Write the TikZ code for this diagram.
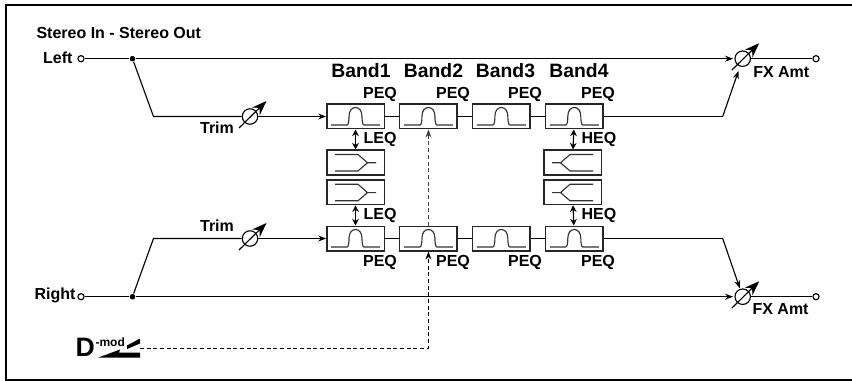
\documentclass[tikz,border=0pt]{standalone}
\usepackage{fontspec}
\setmainfont{Liberation Sans}
\usepackage{tikz}
\usetikzlibrary{arrows.meta, positioning}

\begin{document}
\begin{tikzpicture}[
  x=0.75pt, y=-0.75pt,
  line width=0.85pt,
  font=\bfseries\fontsize{12}{14}\selectfont,
  lab/.style={inner sep=0pt},
  bandlab/.style={lab, font=\bfseries\fontsize{14.5}{16}\selectfont},
  eqbox/.style={rectangle, draw=black!85, line width=1pt, fill=white,
                minimum width=43pt, minimum height=18.5pt, inner sep=0pt},
  term/.style={circle, draw=black, fill=white, minimum size=4.6pt, inner sep=0pt},
  junc/.style={circle, fill=black, minimum size=4.2pt, inner sep=0pt},
  pot/.style={circle, draw=black, fill=white, minimum size=11.6pt, inner sep=0pt},
  tip/.style={-{Stealth[length=6pt, width=4.5pt]}},
  twotip/.style={{Stealth[length=5pt, width=5pt]}-{Stealth[length=5pt, width=5pt]}},
  knob/.style={-{Stealth[length=11pt, width=8pt]}},
  bell/.pic={\draw[black!80] (-24.5,8.5) -- (-8.5,8.5) .. controls (-6.8,8.5) and (-6.5,3) .. (-6.5,0)
             .. controls (-6.5,-6) and (-3.5,-9) .. (0,-9)
             .. controls (3.5,-9) and (6.5,-6) .. (6.5,0)
             .. controls (6.5,3) and (6.8,8.5) .. (8.5,8.5) -- (24.5,8.5);},
  shelf/.pic={\draw[black!80] (-20.5,-8) -- (2.5,-8) -- (12,0.3) -- (2.5,8.5) -- (-20.5,8.5)
              (12,0.3) -- (20.5,0.3);},
]

\useasboundingbox (0,0) rectangle (852,381);

% Frame, open on the right
\draw[line width=1.6pt] (852,5) -- (6,5) -- (6,380) -- (852,380);

\node[lab, anchor=west] (title) at (36,33) {Stereo In - Stereo Out};

% Upper row
\node[eqbox]                  (peqA) at (355.5,116.5) {};
\node[eqbox, right=10.7pt of peqA] (peqB) {};
\node[eqbox, right=10.7pt of peqB] (peqC) {};
\node[eqbox, right=10.7pt of peqC] (peqD) {};

% Lower row
\node[eqbox]                  (peqE) at (355.5,238.5) {};
\node[eqbox, right=10.7pt of peqE] (peqF) {};
\node[eqbox, right=10.7pt of peqF] (peqG) {};
\node[eqbox, right=10.7pt of peqG] (peqH) {};

% Shelving filters
\node[eqbox] (leqA) at (355.5,162.5) {};
\node[eqbox] (leqB) at (355.5,192.3) {};
\node[eqbox] (heqA) at (572.5,162.5) {};
\node[eqbox] (heqB) at (572.5,192.3) {};

\foreach \n in {peqA,peqB,peqC,peqD,peqE,peqF,peqG,peqH}
  \pic at (\n) {bell};
\foreach \n in {leqA,leqB}
  \pic at (\n) {shelf};
\foreach \n in {heqA,heqB}
  \pic[xscale=-1] at (\n) {shelf};

% Band labels
\node[bandlab] (bandA) at (361,71)   {Band1};
\node[bandlab] (bandB) at (433.5,71) {Band2};
\node[bandlab] (bandC) at (505.5,71) {Band3};
\node[bandlab] (bandD) at (579,71)   {Band4};

\foreach \x/\n in {380/A,453/B,525/C,598/D}
  \node[lab] (labup\n) at (\x,94) {PEQ};
\foreach \x/\n in {380/E,453/F,525/G,598/H}
  \node[lab] (labdn\n) at (\x,262) {PEQ};

\node[lab, anchor=west] (labLa) at (363,139.5) {LEQ};
\node[lab, anchor=west] (labLb) at (363,215)   {LEQ};
\node[lab, anchor=west] (labHa) at (581,139.5) {HEQ};
\node[lab, anchor=west] (labHb) at (581,215)   {HEQ};

% Inputs and outputs
\node[term] (inL)  at (81,58.7)  {};
\node[term] (inR)  at (81,296.7) {};
\node[term] (outL) at (816,58.7) {};
\node[term] (outR) at (816,296.7) {};
\node[junc] (dotL) at (132.5,58.7)  {};
\node[junc] (dotR) at (132.5,296.7) {};
\node[lab, anchor=east] (labL) at (73,58)  {Left};
\node[lab, anchor=east] (labR) at (76,295) {Right};

% Level controls
\node[pot] (trimL) at (250,116.5)  {};
\node[pot] (trimR) at (250,238.5)  {};
\node[pot] (amtL)  at (742.7,58.7) {};
\node[pot] (amtR)  at (742.7,296.7) {};
\node[lab] (labTa) at (217,128) {Trim};
\node[lab] (labTb) at (217,226) {Trim};
\node[lab, anchor=west] (labFa) at (752.7,71.7)  {FX Amt};
\node[lab, anchor=west] (labFb) at (752,309.3)   {FX Amt};

\coordinate (bendA) at (153.5,116.5);
\coordinate (bendB) at (153.5,238.5);
\coordinate (bendC) at (722.7,116.5);
\coordinate (bendD) at (722.7,238.5);

% Edges
\draw (inL) -- (dotL);
\draw (inR) -- (dotR);
\draw[tip, shorten >=1pt] (dotL) -- (amtL);
\draw[tip, shorten >=1pt] (dotR) -- (amtR);
\draw (amtL) -- (outL);
\draw (amtR) -- (outR);
\draw (dotL) -- (bendA) -- (trimL);
\draw (dotR) -- (bendB) -- (trimR);
\draw[tip] (trimL) -- (peqA);
\draw[tip] (trimR) -- (peqE);
\draw (peqA) -- (peqB);
\draw (peqB) -- (peqC);
\draw (peqC) -- (peqD);
\draw (peqE) -- (peqF);
\draw (peqF) -- (peqG);
\draw (peqG) -- (peqH);
\draw (peqD) -- (bendC);
\draw (peqH) -- (bendD);
\draw[tip, shorten >=3.5pt] (bendC) -- (amtL);
\draw[tip, shorten >=0.5pt] (bendD) -- (amtR);
\draw[twotip] (peqA) -- (leqA);
\draw[twotip] (leqB) -- (peqE);
\draw[twotip] (peqD) -- (heqA);
\draw[twotip] (heqB) -- (peqH);

% Knob arrows
\foreach \n in {trimL,trimR,amtL,amtR}
  \draw[knob] ([shift={(-11,11.5)}]\n.center) -- ([shift={(16.5,-15.5)}]\n.center);

% Modulation source
\node[lab, font=\bfseries\fontsize{20}{21}\selectfont, anchor=west] (srcD) at (75,347.5) {D};
\node[lab, font=\bfseries\fontsize{9}{10}\selectfont, anchor=west] (srcM) at (95,342) {-mod};
\fill (98,357.7) -- (120,349.5) -- (119,352.7) -- (140,352.7) -- (140,357.7) -- cycle;
\fill (127,345.5) -- (140,338.5) -- (140,343.5) -- (127,349) -- cycle;
\coordinate (modOut) at (140,348);
\coordinate (modTurn) at (peqF.south |- modOut);
\draw[tip, dashed, dash pattern=on 3pt off 2pt, line width=0.6pt] (modOut) -- (modTurn) -- (peqF.south);
\draw[tip, dashed, dash pattern=on 3pt off 2pt, line width=0.8pt, draw=black!75] (peqF.north) -- (peqB.south);

\end{tikzpicture}
\end{document}
